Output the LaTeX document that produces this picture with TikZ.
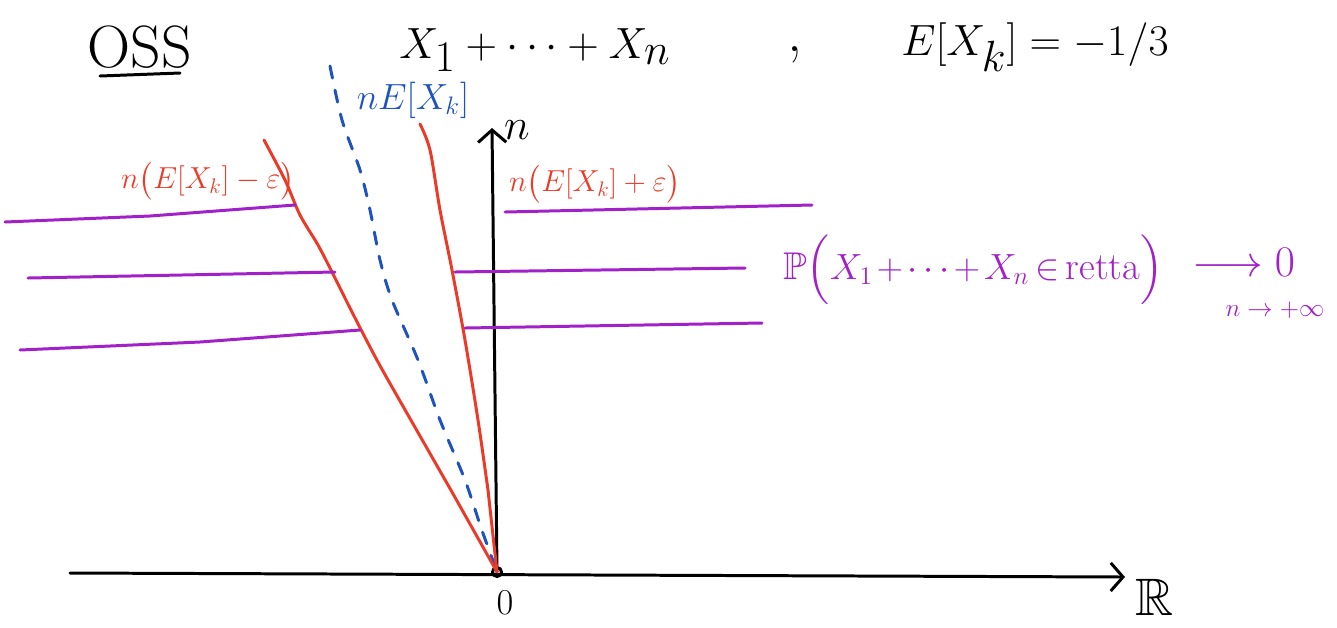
\documentclass[tikz,border=0pt]{standalone}
\usepackage{amsmath,amssymb}
\usetikzlibrary{arrows.meta}
\definecolor{penred}{RGB}{236,58,40}
\definecolor{penblue}{RGB}{30,82,190}
\definecolor{penpurple}{RGB}{162,32,200}
\tikzset{
  pen/.style={line width=1.7pt, line cap=round, line join=round},
  axisline/.style={pen, black, -{Straight Barb[length=7pt,width=16pt,line width=1.7pt]}},
  redline/.style={pen, penred},
  blueline/.style={pen, penblue, dash pattern=on 7pt off 7pt},
  purpleline/.style={pen, penpurple},
  bigtext/.style={font=\fontsize{34}{40}\selectfont, inner sep=0pt},
  midtext/.style={font=\fontsize{18}{22}\selectfont, inner sep=0pt},
}
\begin{document}
\begin{tikzpicture}[x=0.02cm, y=-0.02cm]
\useasboundingbox (0,0) rectangle (1337,627);

% heading
\node[bigtext] (oss) at (140,47) {OSS};
\draw[pen] (100,76) -- (180,73);
\node[bigtext] (sum) at (535,50) {$X_1+\dots+X_n$};
\node[bigtext] (comma) at (795,55) {,};
\node[bigtext] (exp) at (1035,47) {$E[X_k] = -1/3$};

% axes
\coordinate (O) at (497,572);
\coordinate (ytop) at (492,128);
\coordinate (xleft) at (70,573);
\coordinate (xright) at (1125,577);
\draw[axisline] (O) -- (ytop);
\draw[axisline] (xleft) -- (xright);
\draw[pen] (O) circle (4.5);
\node[inner sep=0pt, font=\fontsize{26}{30}\selectfont] (nlab) at (517,130) {$n$};
\node[inner sep=0pt, font=\fontsize{30}{34}\selectfont] (R) at (1155,597) {$\mathbb{R}$};
\node[inner sep=0pt, font=\fontsize{22}{26}\selectfont] (zero) at (505,603) {$0$};

% blue dashed mean line
\coordinate (btop) at (330,66);
\draw[blueline] (btop) plot[smooth] coordinates {(330,66) (342,120) (360,170) (370,210) (380,260) (392,300) (418,360) (440,420) (465,480) (480,525)} -- (O);
\node[midtext, font=\fontsize{20}{24}\selectfont, text=penblue] (bmean) at (413,100) {$nE[X_k]$};

% red lines
\coordinate (rltop) at (264,140);
\coordinate (rrtop) at (420,124);
\draw[redline] (rltop) plot[smooth] coordinates {(264,140) (285,180) (300,215) (318,245) (332,272) (352,312) (378,362) (412,422) (452,492)} -- (O);
\draw[redline] (rrtop) plot[smooth] coordinates {(420,124) (430,150) (440,210) (452,270) (465,340) (478,420) (488,490)} -- (O);
\node[midtext, text=penred] (rlab) at (208,181) {$n\bigl(E[X_k]-\varepsilon\bigr)$};
\node[midtext, text=penred] (rrlab) at (595,184) {$n\bigl(E[X_k]+\varepsilon\bigr)$};

% purple horizontal lines
\draw[purpleline] (5,222) -- (150,216) -- (295,205);
\draw[purpleline] (28,278) -- (335,272);
\draw[purpleline] (20,350) -- (200,342) -- (360,330);
\draw[purpleline] (505,212) -- (812,205);
\draw[purpleline] (455,272) -- (745,268);
\draw[purpleline] (465,328) -- (762,323);

% probability statement
\node[inner sep=0pt, font=\fontsize{22}{26}\selectfont, text=penpurple, anchor=west] (prob) at (783,270)
  {$\medmuskip=2mu\thickmuskip=3mu\mathbb{P}\Bigl(X_1+\dots+X_n\in \text{retta}\Bigr)$};
\node[inner sep=0pt, font=\fontsize{24}{28}\selectfont, text=penpurple, anchor=west] (lim) at (1192,262)
  {$\longrightarrow 0$};
\node[inner sep=0pt, font=\fontsize{14}{16}\selectfont, text=penpurple] (limsub) at (1275,310)
  {$n\to+\infty$};
\end{tikzpicture}
\end{document}
